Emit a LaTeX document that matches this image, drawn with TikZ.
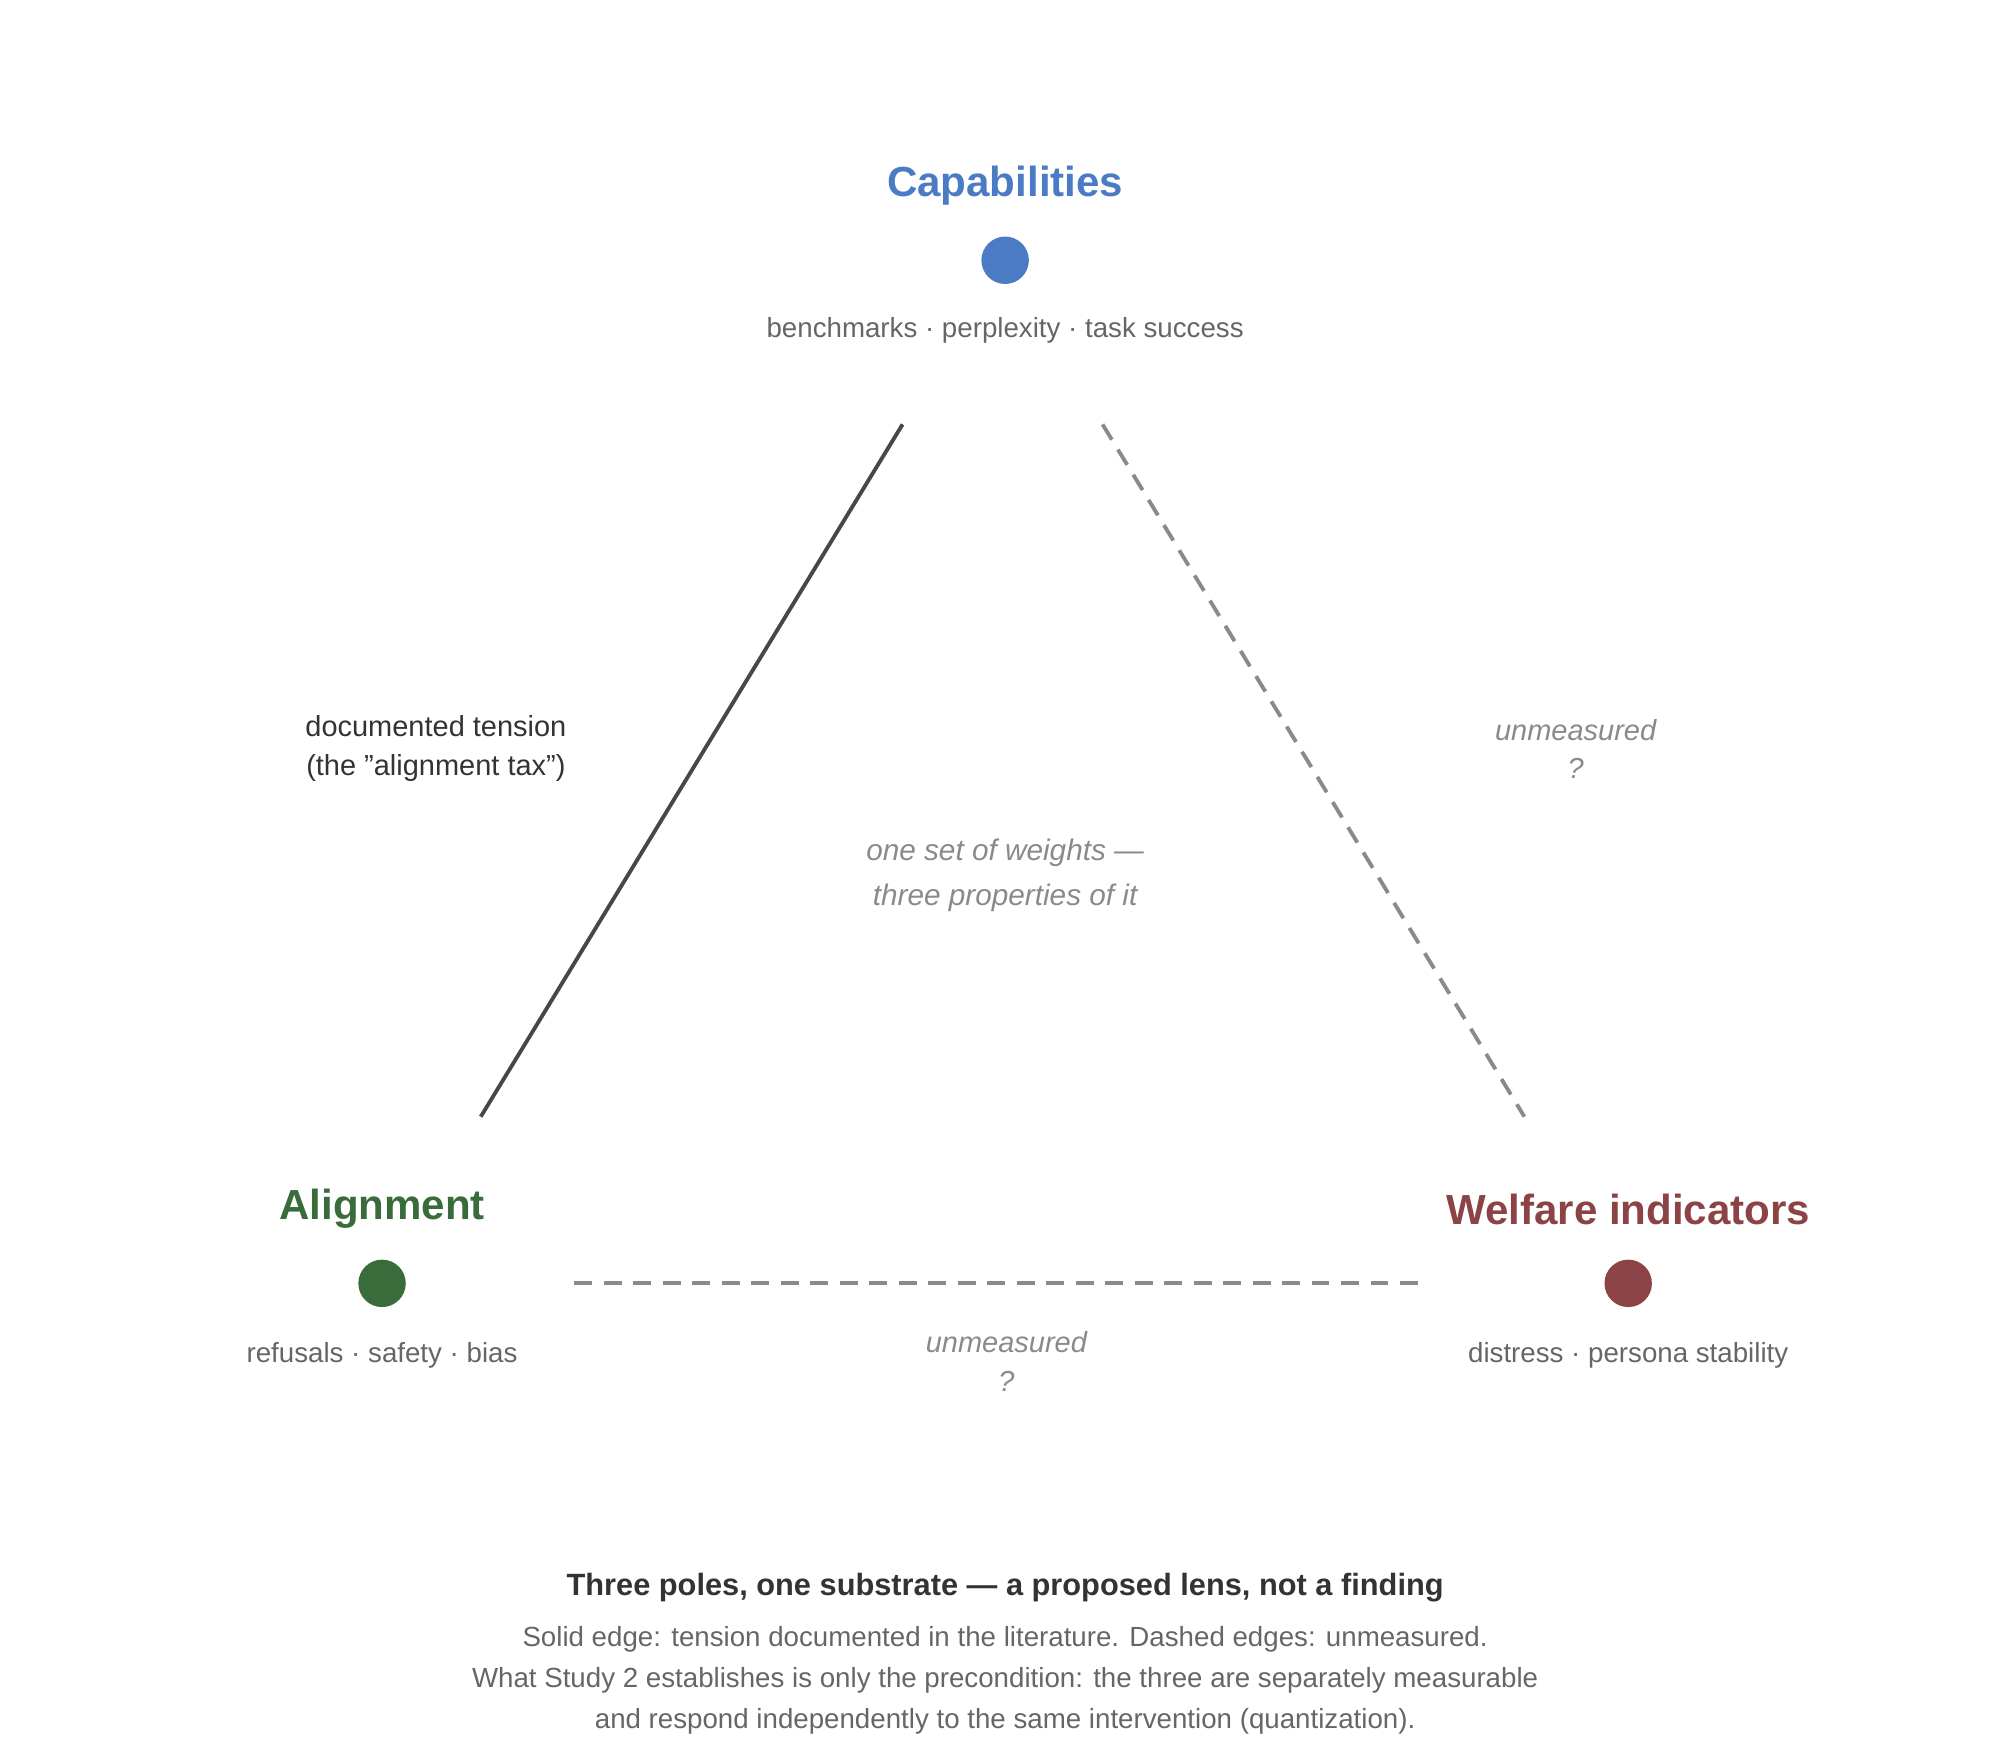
\documentclass[tikz,border=0pt]{standalone}
\usepackage{fontspec}
\setmainfont{Liberation Sans}
\begin{document}
\begin{tikzpicture}[x=0.5pt,y=-0.5pt,
  title/.style={font=\fontsize{16.4}{18}\selectfont\bfseries},
  sub/.style={font=\fontsize{10.8}{15}\selectfont, text=gray5},
  dot/.style={circle,inner sep=0pt,minimum size=18.5pt},
  note/.style={font=\fontsize{11.3}{15}\selectfont\itshape, text=gray9, align=center},
  dashedge/.style={line width=1.5pt, draw=gray9, dash pattern=on 7pt off 4.5pt},
]
\definecolor{cblue}{HTML}{4A7BC4}
\definecolor{cgreen}{HTML}{3A6B3A}
\definecolor{cred}{HTML}{8B4345}
\definecolor{gray5}{HTML}{666666}
\definecolor{gray9}{HTML}{8A8A8A}
\definecolor{dark}{HTML}{333333}
\useasboundingbox (0,0) rectangle (1560,1373);
\node[title,text=cblue] (ct) at (784,145) {Capabilities};
\node[dot,fill=cblue] (cd) at (784,203) {};
\node[sub] (cl) at (784,258) {benchmarks · perplexity · task success};
\node[title,text=cgreen] (at) at (298,943) {Alignment};
\node[dot,fill=cgreen] (ad) at (298,1001) {};
\node[sub] (al) at (298,1057) {refusals · safety · bias};
\node[title,text=cred] (wt) at (1270,943) {Welfare indicators};
\node[dot,fill=cred] (wd) at (1270,1001) {};
\node[sub] (wl) at (1270,1057) {distress · persona stability};
\coordinate (s1) at (704,331); \coordinate (s2) at (375,871);
\coordinate (d1) at (860,331); \coordinate (d2) at (1189,871);
\coordinate (b1) at (448,1001); \coordinate (b2) at (1114,1001);
\draw[line width=1.5pt, draw=dark!90] (s1) -- (s2);
\draw[dashedge] (d1) -- (d2);
\draw[dashedge] (b1) -- (b2);
\node[font=\fontsize{11.3}{15}\selectfont, text=dark, align=center] (tl) at (340,584) {documented tension\\(the \symbol{34}alignment tax\symbol{34})};
\node[note] (ul) at (1229,584) {unmeasured\\?};
\node[note, font=\fontsize{11.6}{17.5}\selectfont\itshape] (cn) at (784,683) {one set of weights —\\three properties of it};
\node[note] (bl) at (785,1062) {unmeasured\\?};
\node[font=\fontsize{12}{13}\selectfont\bfseries, text=dark] (cap) at (784,1238) {Three poles, one substrate — a proposed lens, not a finding};
\node[sub, align=center, font=\fontsize{10.8}{16}\selectfont] (cap2) at (784,1311) {Solid edge: tension documented in the literature. Dashed edges: unmeasured.\\What Study 2 establishes is only the precondition: the three are separately measurable\\and respond independently to the same intervention (quantization).};
\end{tikzpicture}
\end{document}
